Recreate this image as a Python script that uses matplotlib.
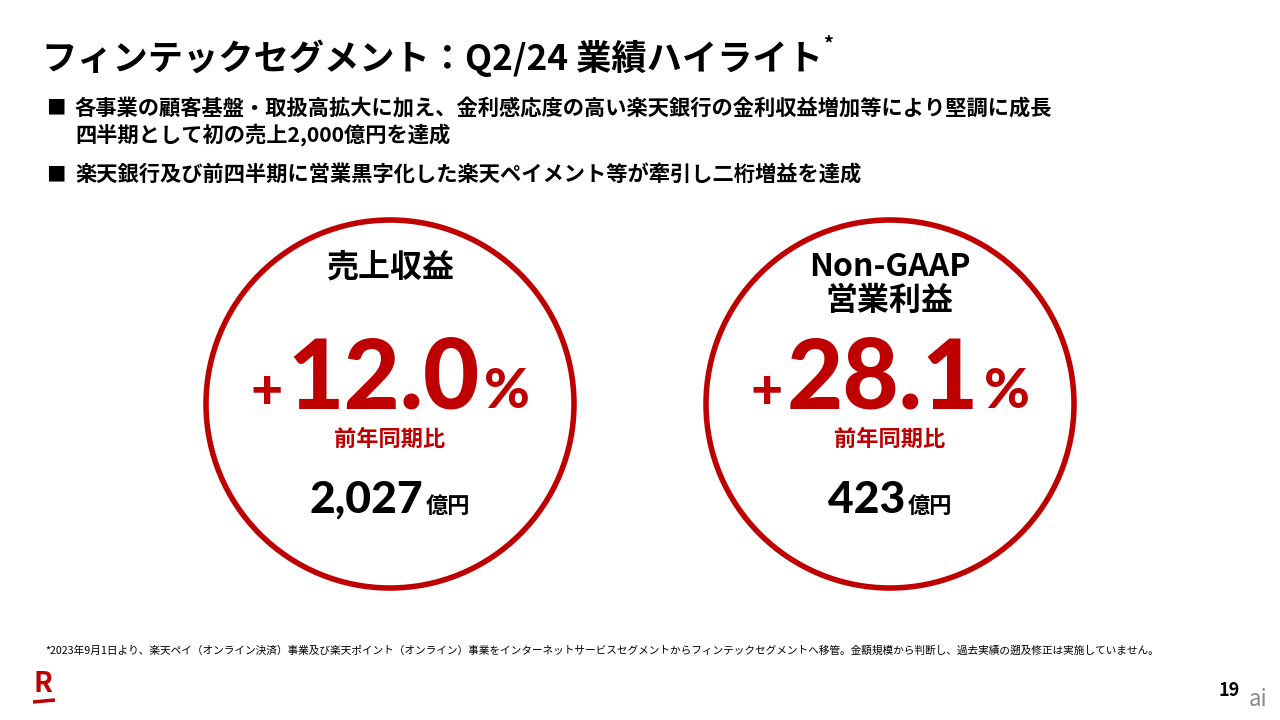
import matplotlib
matplotlib.use("Agg")
import matplotlib.pyplot as plt
from matplotlib.patches import Circle
from matplotlib.offsetbox import TextArea, HPacker, AnnotationBbox

plt.rcParams['font.family'] = ['Noto Sans CJK JP', 'DejaVu Sans']

RED = '#bf0000'
NUM_FONT = ['Lato', 'DejaVu Sans']

title = "フィンテックセグメント：Q2/24 業績ハイライト"
bullets = [
    ["各事業の顧客基盤・取扱高拡大に加え、金利感応度の高い楽天銀行の金利収益増加等により堅調に成長",
     "四半期として初の売上2,000億円を達成"],
    ["楽天銀行及び前四半期に営業黒字化した楽天ペイメント等が牽引し二桁増益を達成"],
]
metric_names = ["売上収益", "Non-GAAP\n営業利益"]
growth_pct = ["12.0", "28.1"]
amounts = ["2,027", "423"]
footnote = ("*2023年9月1日より、楽天ペイ（オンライン決済）事業及び楽天ポイント（オンライン）事業を"
            "インターネットサービスセグメントからフィンテックセグメントへ移管。"
            "金額規模から判断し、過去実績の遡及修正は実施していません。")
page_no = "19"

fig = plt.figure(figsize=(12.8, 7.2), dpi=100)
ax = fig.add_axes([0, 0, 1, 1])
ax.set_xlim(0, 1280)
ax.set_ylim(720, 0)
ax.axis('off')

# title
ax.text(42, 58, title, fontsize=25.4, fontweight='bold', va='center', ha='left')
ax.text(823, 44, "*", fontsize=14, fontweight='bold', va='center', ha='left')

# bullets
y = 108
for b in bullets:
    ax.text(46, y, "■", fontsize=14, va='center', ha='left')
    for line in b:
        ax.text(75, y, line, fontsize=15.3, fontweight='bold', va='center', ha='left')
        y += 27
    y += 13

# circles
centers = [390, 890]
cy = 404
for i, cx in enumerate(centers):
    ax.add_patch(Circle((cx, cy), 184, fill=False, ec=RED, lw=4))
    if "\n" in metric_names[i]:
        ax.text(cx, 284, metric_names[i], fontsize=23, fontweight='bold',
                ha='center', va='center', linespacing=1.1)
    else:
        ax.text(cx, 268, metric_names[i], fontsize=23, fontweight='bold',
                ha='center', va='center')

    big = HPacker(children=[
        TextArea("+", textprops=dict(fontsize=40, fontweight='black', color=RED, family=NUM_FONT)),
        TextArea(growth_pct[i], textprops=dict(fontsize=70, fontweight='black', color=RED, family=NUM_FONT)),
        TextArea("%", textprops=dict(fontsize=40, fontweight='black', color=RED, family=NUM_FONT)),
    ], align="baseline", pad=0, sep=3)
    ax.add_artist(AnnotationBbox(big, (cx, 380), frameon=False, box_alignment=(0.5, 0.5)))

    ax.text(cx, 439, "前年同期比", fontsize=16, fontweight='bold', color=RED,
            ha='center', va='center')

    amt = HPacker(children=[
        TextArea(amounts[i], textprops=dict(fontsize=32, fontweight='black', family=NUM_FONT)),
        TextArea("億円", textprops=dict(fontsize=16, fontweight='bold')),
    ], align="baseline", pad=0, sep=2)
    ax.add_artist(AnnotationBbox(amt, (cx, 500), frameon=False, box_alignment=(0.5, 0.5)))

# footnote
ax.text(45, 651, footnote, fontsize=7.7, ha='left', va='center')

# logo
ax.text(43, 684, "R", fontsize=20, fontweight='bold', color=RED, ha='center', va='center')
ax.plot([33, 55], [702, 700], color=RED, lw=2.5, solid_capstyle='butt')

ax.text(1240, 690, page_no, fontsize=13, fontweight='bold', ha='right', va='center')
ax.text(1258, 700, "ai", fontsize=16, style='italic', color='#8a8a8a', ha='center', va='center')

fig.savefig("out.png", dpi=100, facecolor='white')
